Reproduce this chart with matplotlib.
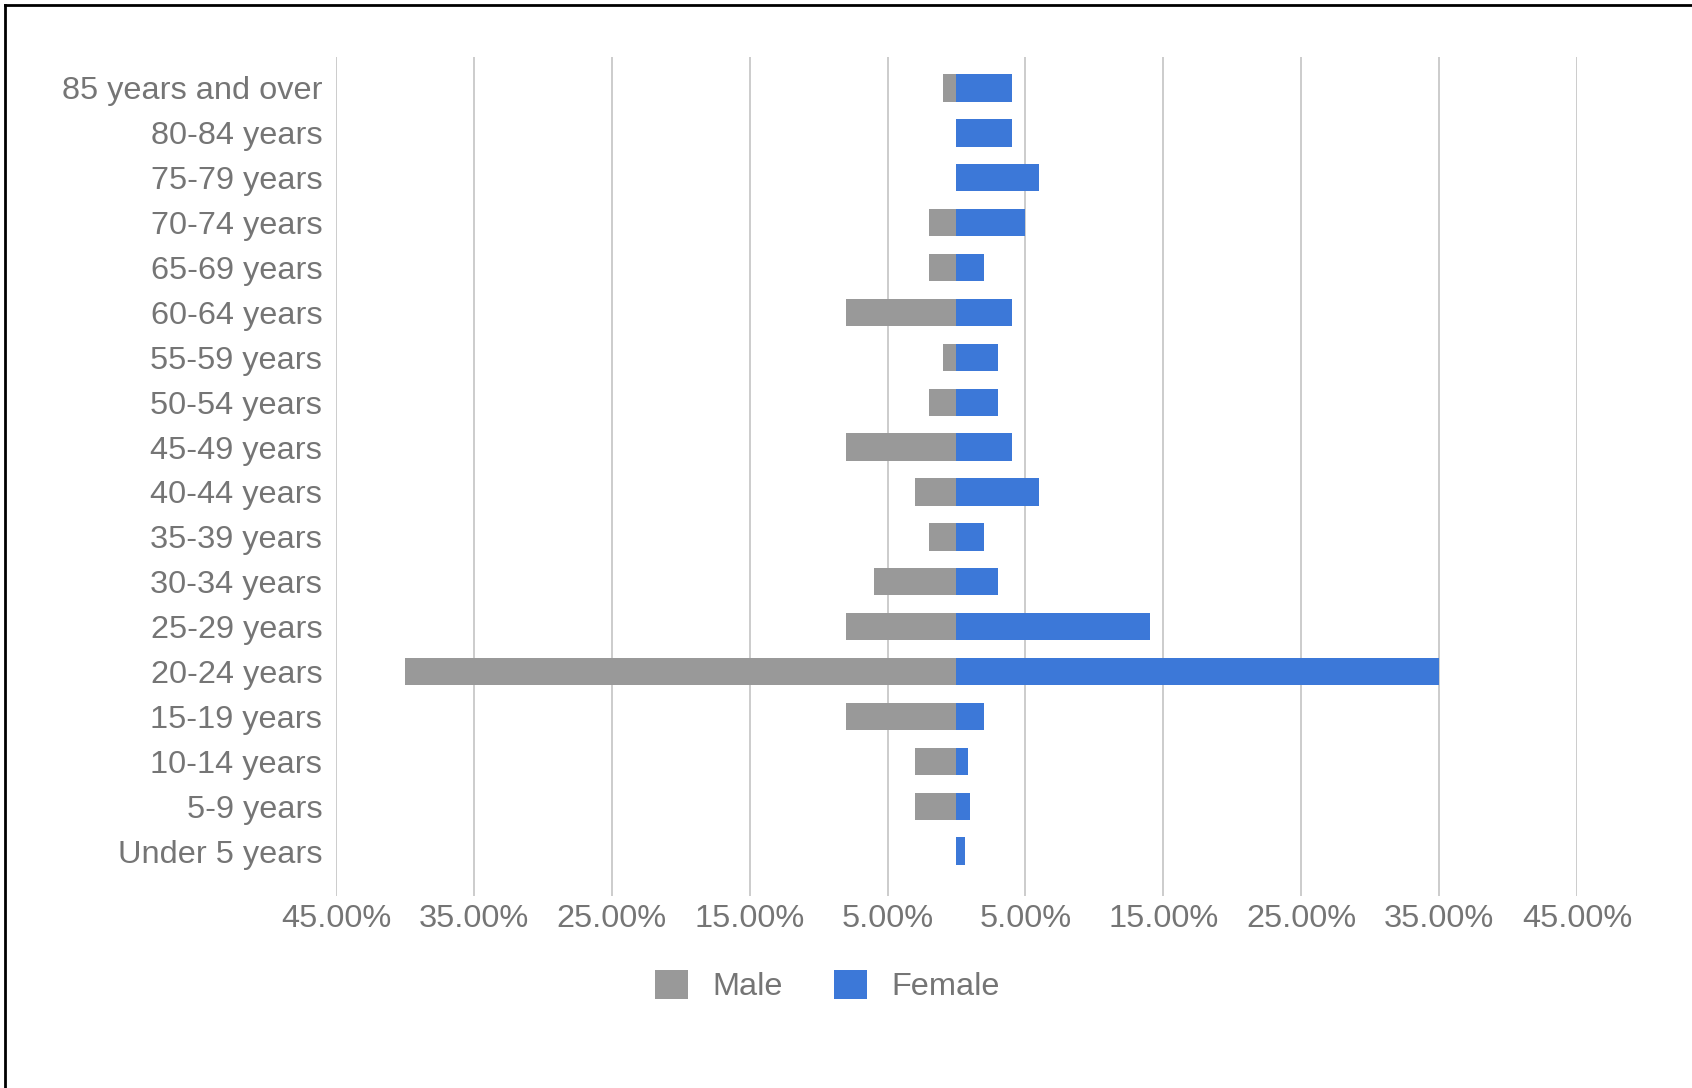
import matplotlib
matplotlib.use("Agg")
import matplotlib.pyplot as plt
from matplotlib.patches import Patch
from matplotlib.lines import Line2D

plt.rcParams['font.family'] = ['Liberation Sans', 'DejaVu Sans']

# age groups, top row first
age_groups = ["85 years and over", "80-84 years", "75-79 years", "70-74 years",
              "65-69 years", "60-64 years", "55-59 years", "50-54 years",
              "45-49 years", "40-44 years", "35-39 years", "30-34 years",
              "25-29 years", "20-24 years", "15-19 years", "10-14 years",
              "5-9 years", "Under 5 years"]
male_pct = [1, 0, 0, 2, 2, 8, 1, 2, 8, 3, 2, 6, 8, 40, 8, 3, 3, 0]
female_pct = [4, 4, 6, 5, 2, 4, 3, 3, 4, 6, 2, 3, 14, 35, 2, 0.8, 1, 0.6]
grid_ticks = [-45, -35, -25, -15, -5, 5, 15, 25, 35, 45]

male_color = "#999999"
female_color = "#3c78d8"
text_color = "#757575"

fig = plt.figure(figsize=(16.92, 10.88), dpi=100)
ax = fig.add_axes([0.1986, 0.1765, 0.7334, 0.7711])

rows = list(range(len(age_groups)))
ax.barh(rows, [-m for m in male_pct], height=0.61, color=male_color, label="Male")
ax.barh(rows, female_pct, height=0.61, color=female_color, label="Female")

ax.set_xlim(-45, 45)
ax.set_ylim(18.0, -0.69)
ax.set_xticks(grid_ticks)
ax.set_xticklabels(["%.2f%%" % abs(t) for t in grid_ticks])
ax.set_yticks(rows)
ax.set_yticklabels(age_groups)
ax.tick_params(axis="both", length=0, labelsize=23.4, labelcolor=text_color)
ax.tick_params(axis="x", pad=6)
ax.tick_params(axis="y", pad=10)

ax.grid(axis="x", color="#cccccc", linewidth=1.4)
ax.set_axisbelow(True)
for s in ax.spines.values():
    s.set_visible(False)

handles = [Patch(facecolor=male_color, label="Male"),
           Patch(facecolor=female_color, label="Female")]
leg = fig.legend(handles=handles, loc="center", bbox_to_anchor=(0.489, 0.0937),
                 ncol=2, frameon=False, fontsize=23.4, handlelength=1.0,
                 handleheight=1.0, handletextpad=0.75, columnspacing=1.6)
for t in leg.get_texts():
    t.set_color(text_color)

# thin frame along the top and left edges
fig.add_artist(Line2D([0.003, 0.003], [0.0, 0.9955], transform=fig.transFigure,
                      color="black", linewidth=2))
fig.add_artist(Line2D([0.003, 1.0], [0.9955, 0.9955], transform=fig.transFigure,
                      color="black", linewidth=2))

fig.savefig("out.png", dpi=100, facecolor="white")
